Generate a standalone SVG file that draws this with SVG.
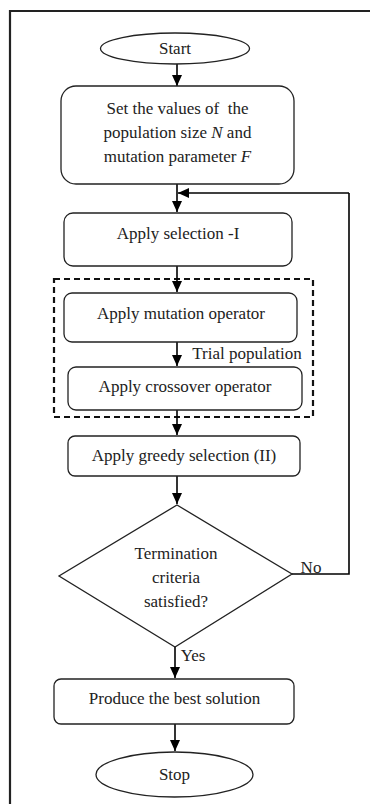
<svg xmlns="http://www.w3.org/2000/svg" width="370" height="804" viewBox="0 0 370 804">
<defs>
<marker id="ah" markerUnits="userSpaceOnUse" markerWidth="12" markerHeight="12" viewBox="0 0 12 12" refX="11" refY="6" orient="auto">
<path d="M0,1 L11,6 L0,11 Z" fill="#000"/>
</marker>
<style>
.box{fill:#fff;stroke:#222;stroke-width:1.3}
.t{font-family:"Liberation Serif","Times New Roman",serif;font-size:17px;fill:#222;text-anchor:middle}
.c{fill:none;stroke:#000;stroke-width:1.6}
.ca{fill:none;stroke:#000;stroke-width:1.6;marker-end:url(#ah)}
</style>
</defs>
<rect width="370" height="804" fill="#fff"/>
<path d="M10,804 V11 H370" fill="none" stroke="#222" stroke-width="2.2"/>
<rect x="54" y="279" width="259" height="138" fill="none" stroke="#111" stroke-width="2.2" stroke-dasharray="6,4"/>
<g id="connectors">
<path class="ca" d="M177,64 V86"/>
<path class="ca" d="M177,184 V212"/>
<path class="c" d="M292,574 H349 V193"/>
<path class="ca" d="M349,193 H178"/>
<path class="ca" d="M177,266 V292"/>
<path class="ca" d="M177,342 V366"/>
<path class="ca" d="M177,410 V435"/>
<path class="ca" d="M177,476 V504"/>
<path class="ca" d="M175,647 V678"/>
<path class="ca" d="M175,724 V751"/>
</g>
<g id="start">
<ellipse class="box" cx="175" cy="48.5" rx="74.5" ry="15.5"/>
<text class="t" x="175" y="54">Start</text>
</g>
<g id="set">
<rect class="box" x="61" y="86" width="233" height="98" rx="15"/>
<text class="t" x="177.5" y="114" xml:space="preserve">Set the values of  the</text>
<text class="t" x="177.5" y="138">population size <tspan font-style="italic">N</tspan> and</text>
<text class="t" x="177.5" y="162">mutation parameter <tspan font-style="italic">F</tspan></text>
</g>
<g id="selection">
<rect class="box" x="64" y="213" width="228" height="53" rx="9"/>
<text class="t" x="178" y="239">Apply selection -I</text>
</g>
<g id="mutation">
<rect class="box" x="64" y="293" width="233" height="49" rx="8"/>
<text class="t" x="181" y="319">Apply mutation operator</text>
</g>
<g id="trial">
<text class="t" x="247" y="359">Trial population</text>
</g>
<g id="crossover">
<rect class="box" x="68" y="367" width="234" height="43" rx="8"/>
<text class="t" x="185" y="392">Apply crossover operator</text>
</g>
<g id="greedy">
<rect class="box" x="68" y="436" width="232" height="40" rx="7"/>
<text class="t" x="184" y="461">Apply greedy selection (II)</text>
</g>
<g id="termination">
<path class="box" d="M177,505 L292,574 L175,647 L59,576 Z"/>
<text class="t" x="176" y="559">Termination</text>
<text class="t" x="176" y="583">criteria</text>
<text class="t" x="176" y="607">satisfied?</text>
</g>
<g id="no">
<text class="t" x="311" y="573">No</text>
</g>
<g id="yes">
<text class="t" x="193" y="661">Yes</text>
</g>
<g id="produce">
<rect class="box" x="54" y="679" width="240" height="45" rx="7"/>
<text class="t" x="174.5" y="704">Produce the best solution</text>
</g>
<g id="stop">
<ellipse class="box" cx="174.5" cy="774.5" rx="78.5" ry="22.5"/>
<text class="t" x="174.5" y="780">Stop</text>
</g>
</svg>
